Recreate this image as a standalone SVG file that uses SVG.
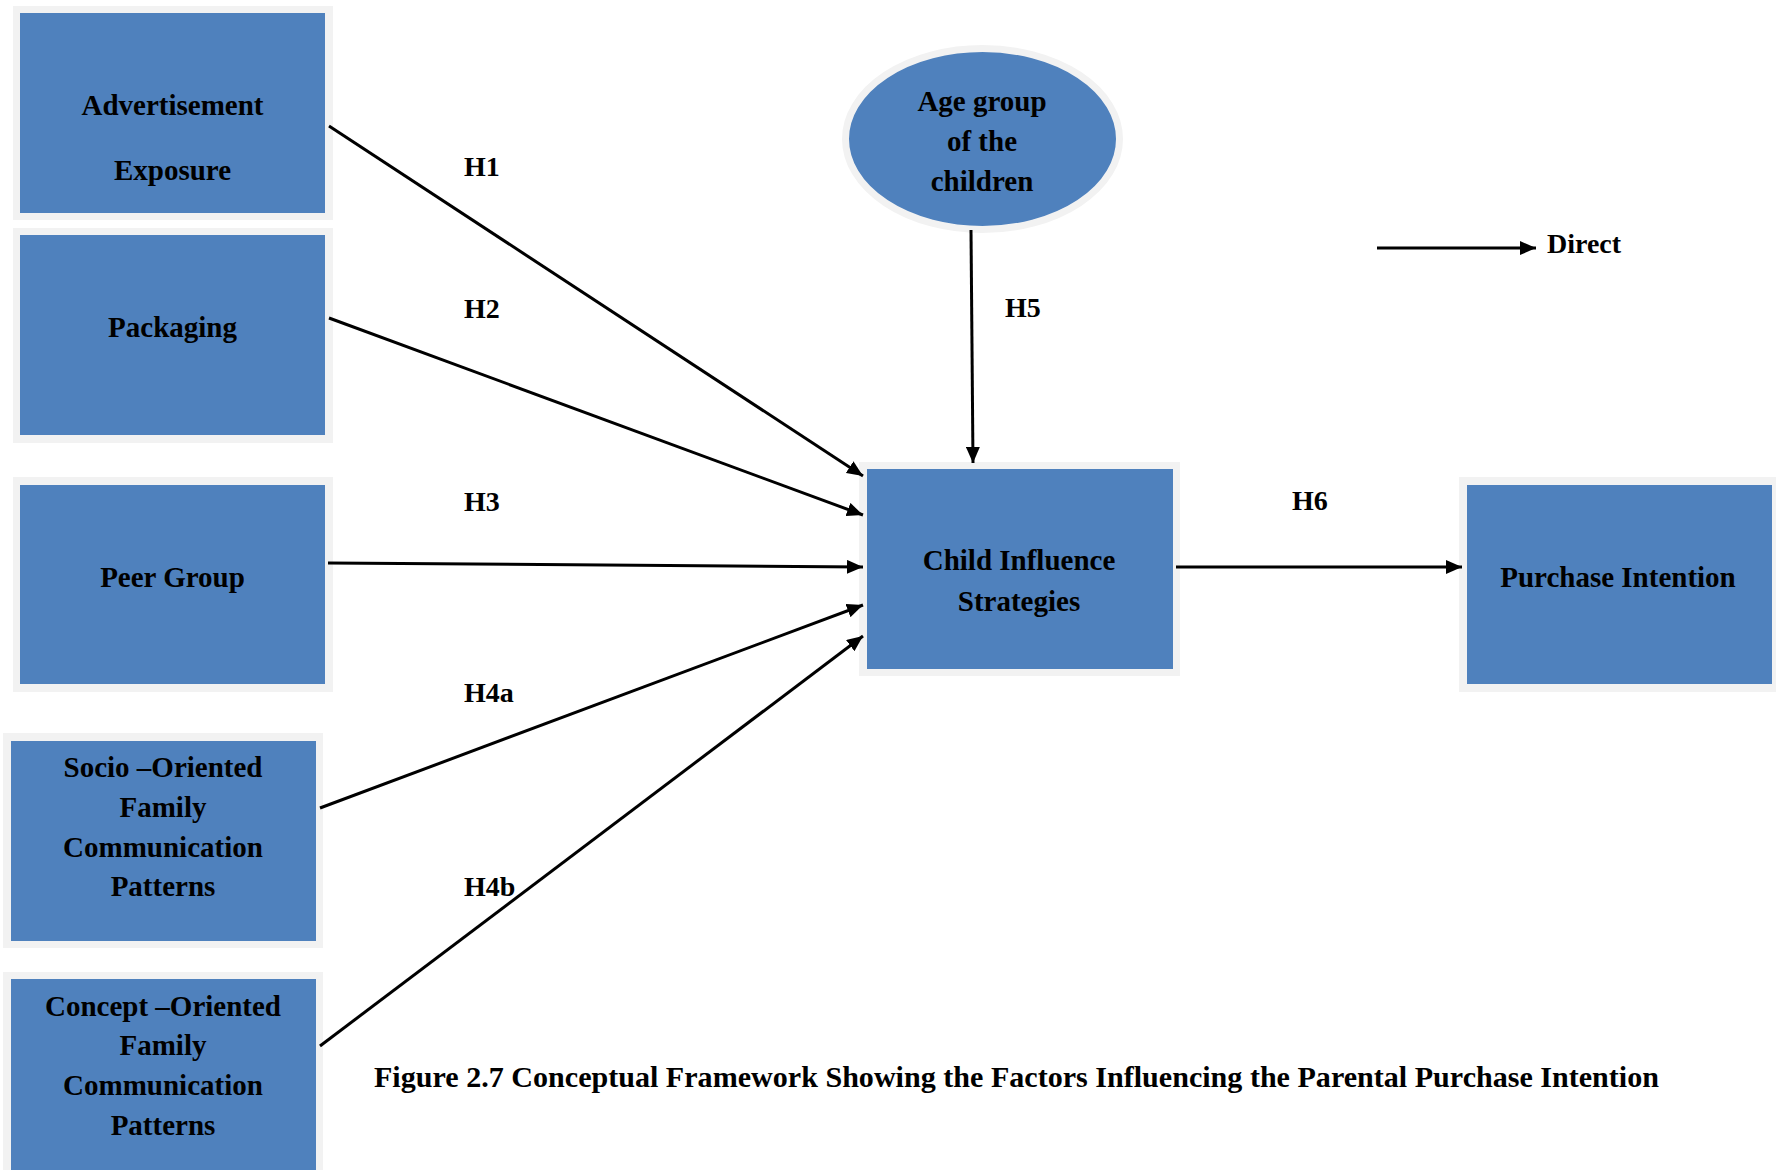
<svg xmlns="http://www.w3.org/2000/svg" width="1776" height="1170" viewBox="0 0 1776 1170">
<style>
.frame{fill:#f2f2f2}
.box{fill:#4f81bd}
.t{font-family:"Liberation Serif","Times New Roman",serif;font-weight:bold;font-size:29px;fill:#000;text-anchor:middle}
.lbl{font-family:"Liberation Serif","Times New Roman",serif;font-weight:bold;font-size:28px;fill:#000}
.cap{font-family:"Liberation Serif","Times New Roman",serif;font-weight:bold;font-size:29px;fill:#000}
.edge{stroke:#000;stroke-width:3;fill:none;marker-end:url(#ah)}
</style>
<defs>
<marker id="ah" markerUnits="userSpaceOnUse" markerWidth="18" markerHeight="14" refX="16" refY="7" orient="auto">
<path d="M0,0 L16,7 L0,14 Z" fill="#000"/>
</marker>
</defs>
<rect width="1776" height="1170" fill="#fff"/>

<g id="advertisement">
<rect class="frame" x="13" y="6" width="320" height="214"/>
<rect class="box" x="20" y="13" width="305" height="200"/>
<text class="t" x="172.5" y="115">Advertisement</text>
<text class="t" x="172.5" y="180">Exposure</text>
</g>

<g id="packaging">
<rect class="frame" x="13" y="228" width="320" height="215"/>
<rect class="box" x="20" y="235" width="305" height="200"/>
<text class="t" x="172.5" y="337">Packaging</text>
</g>

<g id="peer-group">
<rect class="frame" x="13" y="477" width="320" height="215"/>
<rect class="box" x="20" y="485" width="305" height="199"/>
<text class="t" x="172.5" y="587">Peer Group</text>
</g>

<g id="socio">
<rect class="frame" x="3" y="733" width="320" height="215"/>
<rect class="box" x="11" y="741" width="305" height="200"/>
<text class="t" x="163" y="777">Socio –Oriented</text>
<text class="t" x="163" y="817">Family</text>
<text class="t" x="163" y="857">Communication</text>
<text class="t" x="163" y="896">Patterns</text>
</g>

<g id="concept">
<rect class="frame" x="3" y="972" width="320" height="210"/>
<rect class="box" x="11" y="979" width="305" height="200"/>
<text class="t" x="163" y="1016">Concept –Oriented</text>
<text class="t" x="163" y="1055">Family</text>
<text class="t" x="163" y="1095">Communication</text>
<text class="t" x="163" y="1135">Patterns</text>
</g>

<g id="age-group">
<ellipse cx="982.5" cy="139" rx="137" ry="90.5" fill="#4f81bd" stroke="#f2f2f2" stroke-width="7"/>
<text class="t" x="982" y="111">Age group</text>
<text class="t" x="982" y="151">of the</text>
<text class="t" x="982" y="191">children</text>
</g>

<g id="child-influence">
<rect class="frame" x="859" y="462" width="321" height="214"/>
<rect class="box" x="867" y="469" width="306" height="200"/>
<text class="t" x="1019" y="570">Child Influence</text>
<text class="t" x="1019" y="611">Strategies</text>
</g>

<g id="purchase-intention">
<rect class="frame" x="1459" y="477" width="320" height="215"/>
<rect class="box" x="1467" y="485" width="305" height="199"/>
<text class="t" x="1618" y="587">Purchase Intention</text>
</g>

<g id="connectors">
<line class="edge" x1="329" y1="126" x2="863" y2="476"/>
<line class="edge" x1="329" y1="318" x2="863" y2="515"/>
<line class="edge" x1="328" y1="563" x2="863" y2="567"/>
<line class="edge" x1="320" y1="808" x2="863" y2="605"/>
<line class="edge" x1="320" y1="1046" x2="863" y2="636"/>
<line class="edge" x1="971" y1="230" x2="973" y2="463"/>
<line class="edge" x1="1176" y1="567" x2="1462" y2="567"/>
</g>

<g id="labels">
<text class="lbl" x="464" y="176">H1</text>
<text class="lbl" x="464" y="318">H2</text>
<text class="lbl" x="464" y="511">H3</text>
<text class="lbl" x="464" y="702">H4a</text>
<text class="lbl" x="464" y="896">H4b</text>
<text class="lbl" x="1005" y="317">H5</text>
<text class="lbl" x="1292" y="510">H6</text>
</g>

<g id="legend">
<line class="edge" x1="1377" y1="248" x2="1536" y2="248"/>
<text class="lbl" x="1547" y="253">Direct</text>
</g>

<text class="cap" x="374" y="1087" textLength="1285" lengthAdjust="spacingAndGlyphs">Figure 2.7 Conceptual Framework Showing the Factors Influencing the Parental Purchase Intention</text>
</svg>
